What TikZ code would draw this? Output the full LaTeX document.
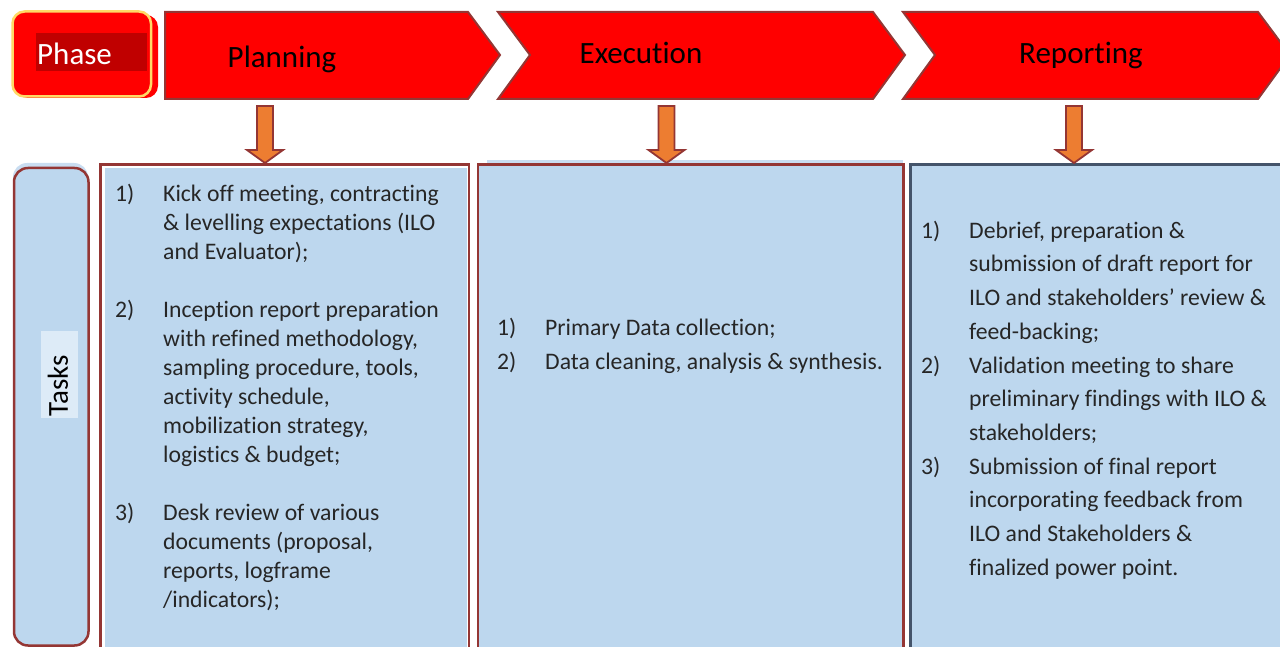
\documentclass[tikz,border=0pt]{standalone}
\usepackage{fontspec}
\setmainfont{Carlito}[Ligatures=CommonOff]
\usepackage{array}
\definecolor{chred}{HTML}{FF0000}
\definecolor{chborder}{HTML}{943634}
\definecolor{phyellow}{HTML}{FFD966}
\definecolor{phdark}{HTML}{C00000}
\definecolor{arrorange}{HTML}{ED7D31}
\definecolor{boxblue}{HTML}{BDD7EE}
\definecolor{paleblue}{HTML}{C9DDF1}
\definecolor{labelblue}{HTML}{DDEBF7}
\definecolor{slate}{HTML}{44546A}
\definecolor{bodytext}{HTML}{262626}
\begin{document}
\begin{tikzpicture}[x=1pt,y=-1pt,
  chev/.style={fill=chred,draw=chborder,line width=2pt,line join=miter},
  arr/.style={fill=arrorange,draw=chborder,line width=1.8pt,line join=miter},
  title/.style={font=\fontsize{31}{37}\selectfont,text=black,inner sep=0pt,anchor=base},
  body/.style={inner sep=0pt,anchor=north west,text=bodytext,align=left},
  panel/.style={fill=boxblue,line width=2.5pt}]
\useasboundingbox (0,0) rectangle (1280,647);
\clip (0,0) rectangle (1280,647);

% Phase box
\fill[chred,rounded corners=12pt] (16,15) rectangle (158,98);
\filldraw[fill=chred,draw=phyellow,line width=2.5pt,rounded corners=12pt] (12.5,11.5) rectangle (151,96.5);
\fill[phdark] (36,33) rectangle (146.5,71.5);
\node[font=\fontsize{31}{37}\selectfont,text=white,inner sep=0pt,anchor=base west] (phase) at (37,64.5) {Phase};

% Chevrons
\draw[chev] (165,12) -- (468,12) -- (500,55) -- (468,99) -- (165,99) -- cycle;
\draw[chev] (498,12) -- (873,12) -- (905,55) -- (873,99) -- (498,99) -- (530,55) -- cycle;
\draw[chev] (903,12) -- (1258,12) -- (1290,55) -- (1258,99) -- (903,99) -- (935,55) -- cycle;
\node[title] (planning) at (282,68) {Planning};
\node[title] (execution) at (641,64) {Execution};
\node[title] (reporting) at (1081,63.5) {Reporting};

% Task column boxes
\fill[paleblue,rounded corners=14pt] (13,163) rectangle (88,640);
\filldraw[panel,draw=chborder,rounded corners=14pt] (14,168) rectangle (88.5,645.5);
\fill[labelblue] (41,331) rectangle (78,418);
\node[font=\fontsize{29}{35}\selectfont,text=black,inner sep=0pt,rotate=90] (tasks) at (58,386) {Tasks};

\filldraw[fill=white,draw=chborder,line width=2.5pt] (100.5,164.5) rectangle (469,700);
\fill[boxblue] (104.5,168) rectangle (466.5,700);

\fill[paleblue] (487,160) rectangle (903,700);
\filldraw[panel,draw=chborder] (478,164.5) rectangle (903.5,700);

\filldraw[panel,draw=slate] (910.5,164.5) rectangle (1300,700);

% Arrows
\coordinate (a1s) at (265,106); \coordinate (a1e) at (265,163);
\coordinate (a2s) at (666.5,106); \coordinate (a2e) at (666.5,163);
\coordinate (a3s) at (1074,106); \coordinate (a3e) at (1074,163);
\foreach \s/\e in {a1s/a1e,a2s/a2e,a3s/a3e}{
  \draw[arr] (\s) ++(-8,0) -- ++(16,0) -- ++(0,44) -- ++(10,0) -- (\e) -- ++(-18,-13) -- ++(10,0) -- cycle;
}

% Texts
\node[body] (plantext) at (115,180.7) {\fontsize{23.7}{29}\selectfont
\begin{tabular}{@{}p{48pt}@{}l@{}}
1) & Kick off meeting, contracting\\
   & \& levelling expectations (ILO\\
   & and Evaluator);\\
   & \\
2) & Inception report preparation\\
   & with refined methodology,\\
   & sampling procedure, tools,\\
   & activity schedule,\\
   & mobilization strategy,\\
   & logistics \& budget;\\
   & \\
3) & Desk review of various\\
   & documents (proposal,\\
   & reports, logframe\\
   & /indicators);
\end{tabular}};

\node[body] (exectext) at (497,311) {\fontsize{23.7}{34}\selectfont
\begin{tabular}{@{}p{48pt}@{}l@{}}
1) & Primary Data collection;\\
2) & Data cleaning, analysis \& synthesis.
\end{tabular}};

\node[body] (reptext) at (921,214.5) {\fontsize{23.7}{33.7}\selectfont
\begin{tabular}{@{}p{48pt}@{}l@{}}
1) & Debrief, preparation \&\\
   & submission of draft report for\\
   & ILO and stakeholders’ review \&\\
   & feed-backing;\\
2) & Validation meeting to share\\
   & preliminary findings with ILO \&\\
   & stakeholders;\\
3) & Submission of final report\\
   & incorporating feedback from\\
   & ILO and Stakeholders \&\\
   & finalized power point.
\end{tabular}};
\end{tikzpicture}
\end{document}
